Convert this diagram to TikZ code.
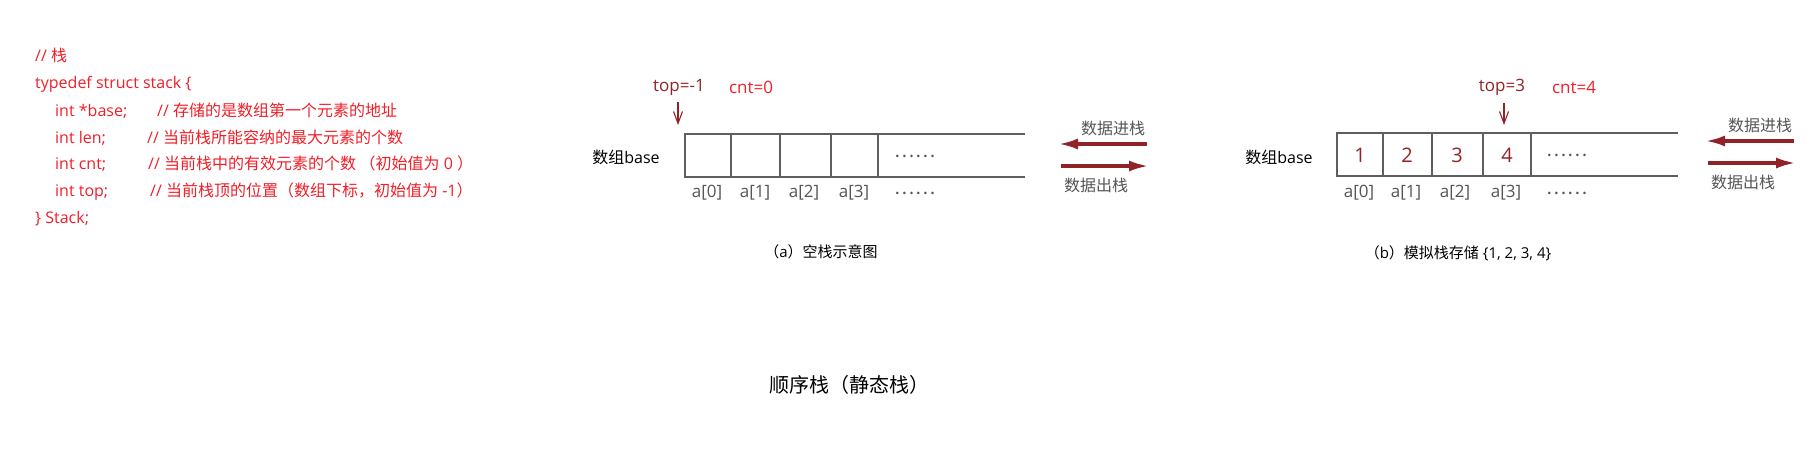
\documentclass[tikz,border=0pt]{standalone}
\usepackage{fontspec}
\setmainfont{Open Sans}
\newfontfamily\cjk{Noto Sans CJK SC}
\usetikzlibrary{arrows.meta}
\definecolor{codered}{RGB}{240,30,40}
\definecolor{darkred}{RGB}{145,35,40}
\definecolor{linegray}{RGB}{95,95,95}
\definecolor{txtgray}{RGB}{85,85,85}
\begin{document}
\begin{tikzpicture}[x=1pt,y=-1pt,
  codetxt/.style={anchor=base west, inner sep=0pt, text=codered, font=\fontsize{16}{16}\selectfont},
  lbltxt/.style={inner sep=0pt, font=\fontsize{16}{16}\selectfont},
  toplbl/.style={inner sep=0pt, text=darkred, font=\fontsize{17}{17}\selectfont},
  cntlbl/.style={inner sep=0pt, text=codered, font=\fontsize{17}{17}\selectfont},
  idxtxt/.style={inner sep=0pt, text=txtgray, font=\fontsize{17}{17}\selectfont},
  numtxt/.style={inner sep=0pt, text=darkred, font=\fontsize{20}{20}\selectfont},
  dotstxt/.style={inner sep=0pt, text=txtgray, font=\cjk\fontsize{19}{19}\selectfont},
  optxt/.style={inner sep=0pt, text=txtgray, font=\cjk\fontsize{16}{16}\selectfont},
  captxt/.style={inner sep=0pt, font=\fontsize{15}{15}\selectfont},
  boxline/.style={draw=linegray, line width=1.6pt},
  bigarrow/.style={draw=darkred, line width=3.5pt, -{Latex[length=20pt,width=11pt]}},
  ptr/.style={draw=darkred, line width=1.1pt, -{Straight Barb[length=12pt,width=9pt]}}
]
\useasboundingbox (0,0) rectangle (1819,471);

% ---------- code ----------
\node[codetxt] (c1) at (35,61) {// {\cjk 栈}};
\node[codetxt] (c2) at (35,88) {typedef struct stack \{};
\node[codetxt] (c3) at (55,116) {int *base;};
\node[codetxt] (c3c) at (157,116) {// {\cjk 存储的是数组第一个元素的地址}};
\node[codetxt] (c4) at (55,143) {int len;};
\node[codetxt] (c4c) at (147,143) {// {\cjk 当前栈所能容纳的最大元素的个数}};
\node[codetxt] (c5) at (55,169) {int cnt;};
\node[codetxt] (c5c) at (148,169) {// {\cjk 当前栈中的有效元素的个数 （初始值为} 0 {\cjk ）}};
\node[codetxt] (c6) at (55,196) {int top;};
\node[codetxt] (c6c) at (150,196) {// {\cjk 当前栈顶的位置（数组下标，初始值为} -1{\cjk ）}};
\node[codetxt] (c7) at (35,223) {\} Stack;};

% ---------- panel (a) ----------
\node[toplbl] (topa) at (679,87) {top=-1};
\node[cntlbl] (cnta) at (751,87) {cnt=0};
\coordinate (pa1) at (678,102);
\coordinate (pa2) at (678,125);
\draw[ptr] (pa1) -- (pa2);

\draw[boxline] (1025,134) -- (685,134) -- (685,177) -- (1025,177);
\foreach \x in {731,780,831,878} \draw[boxline] (\x,134) -- (\x,177);

\node[lbltxt] (basea) at (626,157) {{\cjk 数组}base};
\node[dotstxt] (dotsa) at (915,156) {……};
\node[idxtxt] (ia0) at (707,193) {a[0]};
\node[idxtxt] (ia1) at (755,193) {a[1]};
\node[idxtxt] (ia2) at (804,193) {a[2]};
\node[idxtxt] (ia3) at (854,193) {a[3]};
\node[dotstxt] (idotsa) at (915,193) {……};

\node[optxt] (pusha) at (1113,128) {数据进栈};
\coordinate (la1) at (1147,144);
\coordinate (la2) at (1058,144);
\draw[bigarrow] (la1) -- (la2);
\coordinate (ra1) at (1061,166);
\coordinate (ra2) at (1149,166);
\draw[bigarrow] (ra1) -- (ra2);
\node[optxt] (popa) at (1096,185) {数据出栈};

\node[captxt] (capa) at (821,252) {{\cjk （}a{\cjk ）空栈示意图}};

% ---------- panel (b) ----------
\node[toplbl] (topb) at (1502,87) {top=3};
\node[cntlbl] (cntb) at (1574,87) {cnt=4};
\coordinate (pb1) at (1504,103);
\coordinate (pb2) at (1504,125);
\draw[ptr] (pb1) -- (pb2);

\draw[boxline] (1678,133) -- (1337,133) -- (1337,176) -- (1678,176);
\foreach \x in {1383,1432,1483,1531} \draw[boxline] (\x,133) -- (\x,176);

\node[numtxt] (n1) at (1360,155) {1};
\node[numtxt] (n2) at (1407,155) {2};
\node[numtxt] (n3) at (1457,155) {3};
\node[numtxt] (n4) at (1507,155) {4};

\node[lbltxt] (baseb) at (1279,157) {{\cjk 数组}base};
\node[dotstxt] (dotsb) at (1567,155) {……};
\node[idxtxt] (ib0) at (1359,193) {a[0]};
\node[idxtxt] (ib1) at (1406,193) {a[1]};
\node[idxtxt] (ib2) at (1455,193) {a[2]};
\node[idxtxt] (ib3) at (1506,193) {a[3]};
\node[dotstxt] (idotsb) at (1567,193) {……};

\node[optxt] (pushb) at (1760,125) {数据进栈};
\coordinate (lb1) at (1794,141);
\coordinate (lb2) at (1705,141);
\draw[bigarrow] (lb1) -- (lb2);
\coordinate (rb1) at (1708,163);
\coordinate (rb2) at (1796,163);
\draw[bigarrow] (rb1) -- (rb2);
\node[optxt] (popb) at (1743,182) {数据出栈};

\node[captxt] (capb) at (1458,253) {{\cjk （}b{\cjk ）模拟栈存储} \{1, 2, 3, 4\}};

% ---------- title ----------
\node[inner sep=0pt, font=\cjk\fontsize{20}{20}\selectfont] (title) at (849,385) {顺序栈（静态栈）};
\end{tikzpicture}
\end{document}
